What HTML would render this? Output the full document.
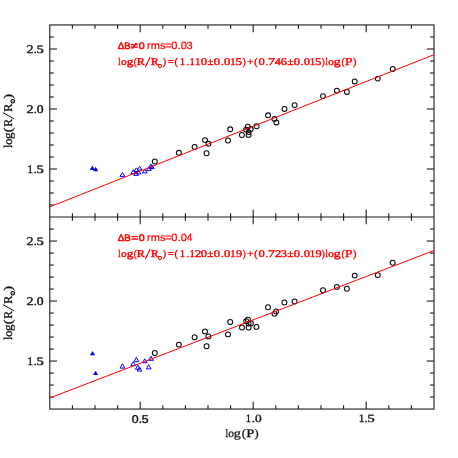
<!DOCTYPE html>
<html><head><meta charset="utf-8"><title>log(R/R) vs log(P)</title>
<style>html,body{margin:0;padding:0;background:#fff;}body{width:458px;height:458px;overflow:hidden;font-family:"Liberation Sans",sans-serif;}svg{display:block;will-change:transform;}text{font-family:"Liberation Serif",serif;text-rendering:geometricPrecision;}.sans{font-family:"Liberation Sans",sans-serif;}</style>
</head><body>
<svg width="458" height="458" viewBox="0 0 458 458">
<rect width="458" height="458" fill="#ffffff"/>
<g stroke="#1a1a1a" stroke-width="1.1" fill="none" stroke-linecap="butt">
<rect x="49.80" y="24.95" width="384.20" height="384.10"/>
<line x1="49.80" y1="217.05" x2="434.00" y2="217.05"/>
<line x1="72.40" y1="24.95" x2="72.40" y2="28.65"/>
<line x1="72.40" y1="213.35" x2="72.40" y2="220.75"/>
<line x1="72.40" y1="405.35" x2="72.40" y2="409.05"/>
<line x1="95.00" y1="24.95" x2="95.00" y2="28.65"/>
<line x1="95.00" y1="213.35" x2="95.00" y2="220.75"/>
<line x1="95.00" y1="405.35" x2="95.00" y2="409.05"/>
<line x1="117.60" y1="24.95" x2="117.60" y2="28.65"/>
<line x1="117.60" y1="213.35" x2="117.60" y2="220.75"/>
<line x1="117.60" y1="405.35" x2="117.60" y2="409.05"/>
<line x1="140.20" y1="24.95" x2="140.20" y2="32.15"/>
<line x1="140.20" y1="209.85" x2="140.20" y2="224.25"/>
<line x1="140.20" y1="401.85" x2="140.20" y2="409.05"/>
<line x1="162.80" y1="24.95" x2="162.80" y2="28.65"/>
<line x1="162.80" y1="213.35" x2="162.80" y2="220.75"/>
<line x1="162.80" y1="405.35" x2="162.80" y2="409.05"/>
<line x1="185.40" y1="24.95" x2="185.40" y2="28.65"/>
<line x1="185.40" y1="213.35" x2="185.40" y2="220.75"/>
<line x1="185.40" y1="405.35" x2="185.40" y2="409.05"/>
<line x1="208.00" y1="24.95" x2="208.00" y2="28.65"/>
<line x1="208.00" y1="213.35" x2="208.00" y2="220.75"/>
<line x1="208.00" y1="405.35" x2="208.00" y2="409.05"/>
<line x1="230.60" y1="24.95" x2="230.60" y2="28.65"/>
<line x1="230.60" y1="213.35" x2="230.60" y2="220.75"/>
<line x1="230.60" y1="405.35" x2="230.60" y2="409.05"/>
<line x1="253.20" y1="24.95" x2="253.20" y2="32.15"/>
<line x1="253.20" y1="209.85" x2="253.20" y2="224.25"/>
<line x1="253.20" y1="401.85" x2="253.20" y2="409.05"/>
<line x1="275.80" y1="24.95" x2="275.80" y2="28.65"/>
<line x1="275.80" y1="213.35" x2="275.80" y2="220.75"/>
<line x1="275.80" y1="405.35" x2="275.80" y2="409.05"/>
<line x1="298.40" y1="24.95" x2="298.40" y2="28.65"/>
<line x1="298.40" y1="213.35" x2="298.40" y2="220.75"/>
<line x1="298.40" y1="405.35" x2="298.40" y2="409.05"/>
<line x1="321.00" y1="24.95" x2="321.00" y2="28.65"/>
<line x1="321.00" y1="213.35" x2="321.00" y2="220.75"/>
<line x1="321.00" y1="405.35" x2="321.00" y2="409.05"/>
<line x1="343.60" y1="24.95" x2="343.60" y2="28.65"/>
<line x1="343.60" y1="213.35" x2="343.60" y2="220.75"/>
<line x1="343.60" y1="405.35" x2="343.60" y2="409.05"/>
<line x1="366.20" y1="24.95" x2="366.20" y2="32.15"/>
<line x1="366.20" y1="209.85" x2="366.20" y2="224.25"/>
<line x1="366.20" y1="401.85" x2="366.20" y2="409.05"/>
<line x1="388.80" y1="24.95" x2="388.80" y2="28.65"/>
<line x1="388.80" y1="213.35" x2="388.80" y2="220.75"/>
<line x1="388.80" y1="405.35" x2="388.80" y2="409.05"/>
<line x1="411.40" y1="24.95" x2="411.40" y2="28.65"/>
<line x1="411.40" y1="213.35" x2="411.40" y2="220.75"/>
<line x1="411.40" y1="405.35" x2="411.40" y2="409.05"/>
<line x1="49.80" y1="205.00" x2="53.80" y2="205.00"/>
<line x1="430.00" y1="205.00" x2="434.00" y2="205.00"/>
<line x1="49.80" y1="193.00" x2="53.80" y2="193.00"/>
<line x1="430.00" y1="193.00" x2="434.00" y2="193.00"/>
<line x1="49.80" y1="181.00" x2="53.80" y2="181.00"/>
<line x1="430.00" y1="181.00" x2="434.00" y2="181.00"/>
<line x1="49.80" y1="169.00" x2="57.00" y2="169.00"/>
<line x1="426.80" y1="169.00" x2="434.00" y2="169.00"/>
<line x1="49.80" y1="157.00" x2="53.80" y2="157.00"/>
<line x1="430.00" y1="157.00" x2="434.00" y2="157.00"/>
<line x1="49.80" y1="145.00" x2="53.80" y2="145.00"/>
<line x1="430.00" y1="145.00" x2="434.00" y2="145.00"/>
<line x1="49.80" y1="133.00" x2="53.80" y2="133.00"/>
<line x1="430.00" y1="133.00" x2="434.00" y2="133.00"/>
<line x1="49.80" y1="121.00" x2="53.80" y2="121.00"/>
<line x1="430.00" y1="121.00" x2="434.00" y2="121.00"/>
<line x1="49.80" y1="109.00" x2="57.00" y2="109.00"/>
<line x1="426.80" y1="109.00" x2="434.00" y2="109.00"/>
<line x1="49.80" y1="97.00" x2="53.80" y2="97.00"/>
<line x1="430.00" y1="97.00" x2="434.00" y2="97.00"/>
<line x1="49.80" y1="85.00" x2="53.80" y2="85.00"/>
<line x1="430.00" y1="85.00" x2="434.00" y2="85.00"/>
<line x1="49.80" y1="73.00" x2="53.80" y2="73.00"/>
<line x1="430.00" y1="73.00" x2="434.00" y2="73.00"/>
<line x1="49.80" y1="61.00" x2="53.80" y2="61.00"/>
<line x1="430.00" y1="61.00" x2="434.00" y2="61.00"/>
<line x1="49.80" y1="49.00" x2="57.00" y2="49.00"/>
<line x1="426.80" y1="49.00" x2="434.00" y2="49.00"/>
<line x1="49.80" y1="37.00" x2="53.80" y2="37.00"/>
<line x1="430.00" y1="37.00" x2="434.00" y2="37.00"/>
<line x1="49.80" y1="397.05" x2="53.80" y2="397.05"/>
<line x1="430.00" y1="397.05" x2="434.00" y2="397.05"/>
<line x1="49.80" y1="385.05" x2="53.80" y2="385.05"/>
<line x1="430.00" y1="385.05" x2="434.00" y2="385.05"/>
<line x1="49.80" y1="373.05" x2="53.80" y2="373.05"/>
<line x1="430.00" y1="373.05" x2="434.00" y2="373.05"/>
<line x1="49.80" y1="361.05" x2="57.00" y2="361.05"/>
<line x1="426.80" y1="361.05" x2="434.00" y2="361.05"/>
<line x1="49.80" y1="349.05" x2="53.80" y2="349.05"/>
<line x1="430.00" y1="349.05" x2="434.00" y2="349.05"/>
<line x1="49.80" y1="337.05" x2="53.80" y2="337.05"/>
<line x1="430.00" y1="337.05" x2="434.00" y2="337.05"/>
<line x1="49.80" y1="325.05" x2="53.80" y2="325.05"/>
<line x1="430.00" y1="325.05" x2="434.00" y2="325.05"/>
<line x1="49.80" y1="313.05" x2="53.80" y2="313.05"/>
<line x1="430.00" y1="313.05" x2="434.00" y2="313.05"/>
<line x1="49.80" y1="301.05" x2="57.00" y2="301.05"/>
<line x1="426.80" y1="301.05" x2="434.00" y2="301.05"/>
<line x1="49.80" y1="289.05" x2="53.80" y2="289.05"/>
<line x1="430.00" y1="289.05" x2="434.00" y2="289.05"/>
<line x1="49.80" y1="277.05" x2="53.80" y2="277.05"/>
<line x1="430.00" y1="277.05" x2="434.00" y2="277.05"/>
<line x1="49.80" y1="265.05" x2="53.80" y2="265.05"/>
<line x1="430.00" y1="265.05" x2="434.00" y2="265.05"/>
<line x1="49.80" y1="253.05" x2="53.80" y2="253.05"/>
<line x1="430.00" y1="253.05" x2="434.00" y2="253.05"/>
<line x1="49.80" y1="241.05" x2="57.00" y2="241.05"/>
<line x1="426.80" y1="241.05" x2="434.00" y2="241.05"/>
<line x1="49.80" y1="229.05" x2="53.80" y2="229.05"/>
<line x1="430.00" y1="229.05" x2="434.00" y2="229.05"/>
</g>
<g fill="none" stroke="#0000ff" stroke-width="1" stroke-linejoin="miter">
<path d="M122.40 172.50L124.75 176.40L120.05 176.40Z"/>
<path d="M133.20 169.70L135.55 173.70L130.85 173.70Z"/>
<path d="M136.40 167.80L138.75 171.50L134.05 171.50Z"/>
<path d="M139.60 166.30L141.95 170.00L137.25 170.00Z"/>
<path d="M136.10 171.70L138.45 175.40L133.75 175.40Z"/>
<path d="M138.60 170.70L140.95 173.90L136.25 173.90Z"/>
<path d="M144.80 169.20L147.15 172.90L142.45 172.90Z"/>
<path d="M148.90 166.80L151.25 170.40L146.55 170.40Z"/>
<path d="M150.90 164.00L153.25 167.80L148.55 167.80Z"/>
<path d="M151.90 165.00L154.25 168.60L149.55 168.60Z"/>
<path d="M122.40 363.70L124.75 368.10L120.05 368.10Z"/>
<path d="M133.20 361.70L135.55 365.70L130.85 365.70Z"/>
<path d="M136.40 357.30L138.75 361.70L134.05 361.70Z"/>
<path d="M137.80 365.10L140.15 369.20L135.45 369.20Z"/>
<path d="M139.60 367.10L141.95 371.10L137.25 371.10Z"/>
<path d="M144.80 358.80L147.15 362.80L142.45 362.80Z"/>
<path d="M148.70 364.60L151.05 368.90L146.35 368.90Z"/>
<path d="M151.00 356.30L153.35 360.30L148.65 360.30Z"/>
</g>
<g fill="#0000ff" stroke="none">
<path d="M92.40 165.60L94.95 170.00L89.85 170.00Z"/>
<path d="M95.65 166.85L98.20 171.25L93.10 171.25Z"/>
<path d="M92.50 350.95L95.05 355.35L89.95 355.35Z"/>
<path d="M95.60 370.70L98.15 375.10L93.05 375.10Z"/>
</g>
<g fill="none" stroke="#0a0a0a" stroke-width="1.05">
<circle cx="154.80" cy="161.50" r="2.45"/>
<circle cx="178.90" cy="152.80" r="2.45"/>
<circle cx="194.60" cy="146.90" r="2.45"/>
<circle cx="205.00" cy="140.10" r="2.45"/>
<circle cx="208.40" cy="143.80" r="2.45"/>
<circle cx="206.60" cy="153.20" r="2.45"/>
<circle cx="228.00" cy="140.50" r="2.45"/>
<circle cx="230.20" cy="129.30" r="2.45"/>
<circle cx="241.90" cy="135.00" r="2.45"/>
<circle cx="247.80" cy="126.70" r="2.45"/>
<circle cx="246.10" cy="129.60" r="2.45"/>
<circle cx="250.70" cy="129.20" r="2.45"/>
<circle cx="248.60" cy="132.10" r="2.45"/>
<circle cx="248.60" cy="134.90" r="2.45"/>
<circle cx="256.60" cy="126.20" r="2.45"/>
<circle cx="268.10" cy="115.30" r="2.45"/>
<circle cx="274.40" cy="118.90" r="2.45"/>
<circle cx="276.40" cy="122.40" r="2.45"/>
<circle cx="284.50" cy="108.90" r="2.45"/>
<circle cx="294.60" cy="105.10" r="2.45"/>
<circle cx="323.00" cy="96.10" r="2.45"/>
<circle cx="336.90" cy="90.60" r="2.45"/>
<circle cx="346.90" cy="91.90" r="2.45"/>
<circle cx="354.70" cy="81.40" r="2.45"/>
<circle cx="377.80" cy="78.60" r="2.45"/>
<circle cx="392.70" cy="68.90" r="2.45"/>
<circle cx="154.80" cy="353.05" r="2.45"/>
<circle cx="178.90" cy="344.60" r="2.45"/>
<circle cx="194.60" cy="337.30" r="2.45"/>
<circle cx="205.00" cy="331.40" r="2.45"/>
<circle cx="208.40" cy="336.40" r="2.45"/>
<circle cx="206.60" cy="346.20" r="2.45"/>
<circle cx="228.00" cy="334.40" r="2.45"/>
<circle cx="230.20" cy="322.00" r="2.45"/>
<circle cx="242.00" cy="327.50" r="2.45"/>
<circle cx="246.20" cy="321.20" r="2.45"/>
<circle cx="247.90" cy="319.70" r="2.45"/>
<circle cx="248.60" cy="323.60" r="2.45"/>
<circle cx="250.90" cy="323.30" r="2.45"/>
<circle cx="248.60" cy="327.50" r="2.45"/>
<circle cx="256.40" cy="326.90" r="2.45"/>
<circle cx="268.00" cy="307.20" r="2.45"/>
<circle cx="274.50" cy="313.80" r="2.45"/>
<circle cx="276.10" cy="311.50" r="2.45"/>
<circle cx="284.40" cy="302.50" r="2.45"/>
<circle cx="294.60" cy="301.50" r="2.45"/>
<circle cx="323.00" cy="290.30" r="2.45"/>
<circle cx="336.90" cy="286.90" r="2.45"/>
<circle cx="346.90" cy="288.70" r="2.45"/>
<circle cx="354.70" cy="275.60" r="2.45"/>
<circle cx="377.80" cy="275.10" r="2.45"/>
<circle cx="392.70" cy="262.80" r="2.45"/>
</g>
<line x1="49.80" y1="206.85" x2="434.00" y2="54.66" stroke="#ff0000" stroke-width="1.0"/>
<line x1="49.80" y1="397.97" x2="434.00" y2="250.48" stroke="#ff0000" stroke-width="1.0"/>
<g fill="#111111" stroke="#111111" stroke-width="0.12">
<text transform="translate(26.53 52.60) scale(1.226 1)" font-size="11.6px" stroke-width="0.35">2</text><text transform="translate(33.77 52.60) scale(1.021 1)" font-size="11.6px" stroke-width="0.35">.</text><text transform="translate(36.40 52.60) scale(1.263 1)" font-size="11.6px" stroke-width="0.35">5</text>
<text transform="translate(26.53 112.60) scale(1.226 1)" font-size="11.6px" stroke-width="0.35">2</text><text transform="translate(33.77 112.60) scale(1.021 1)" font-size="11.6px" stroke-width="0.35">.</text><text transform="translate(36.83 112.60) scale(1.180 1)" font-size="11.6px" stroke-width="0.35">0</text>
<text transform="translate(27.60 172.60) scale(0.931 1)" font-size="11.6px" stroke-width="0.35">1</text><text transform="translate(33.77 172.60) scale(1.021 1)" font-size="11.6px" stroke-width="0.35">.</text><text transform="translate(36.40 172.60) scale(1.263 1)" font-size="11.6px" stroke-width="0.35">5</text>
<text transform="translate(26.53 244.65) scale(1.226 1)" font-size="11.6px" stroke-width="0.35">2</text><text transform="translate(33.77 244.65) scale(1.021 1)" font-size="11.6px" stroke-width="0.35">.</text><text transform="translate(36.40 244.65) scale(1.263 1)" font-size="11.6px" stroke-width="0.35">5</text>
<text transform="translate(26.53 304.65) scale(1.226 1)" font-size="11.6px" stroke-width="0.35">2</text><text transform="translate(33.77 304.65) scale(1.021 1)" font-size="11.6px" stroke-width="0.35">.</text><text transform="translate(36.83 304.65) scale(1.180 1)" font-size="11.6px" stroke-width="0.35">0</text>
<text transform="translate(27.60 364.65) scale(0.931 1)" font-size="11.6px" stroke-width="0.35">1</text><text transform="translate(33.77 364.65) scale(1.021 1)" font-size="11.6px" stroke-width="0.35">.</text><text transform="translate(36.40 364.65) scale(1.263 1)" font-size="11.6px" stroke-width="0.35">5</text>
<text transform="translate(131.82 422.55) scale(1.092 1)" class="sans" font-size="11.3px" stroke-width="0.4">0</text><text transform="translate(138.65 422.55) scale(1.022 1)" class="sans" font-size="11.3px" stroke-width="0.4">.</text><text transform="translate(141.71 422.55) scale(1.083 1)" class="sans" font-size="11.3px" stroke-width="0.4">5</text>
<text transform="translate(245.81 422.35) scale(0.945 1)" font-size="11.0px" stroke-width="0.3">1</text><text transform="translate(251.85 422.35) scale(1.200 1)" font-size="11.0px" stroke-width="0.3">.</text><text transform="translate(255.01 422.35) scale(1.214 1)" font-size="11.0px" stroke-width="0.3">0</text>
<text transform="translate(358.73 422.35) scale(1.023 1)" font-size="11.0px" stroke-width="0.3">1</text><text transform="translate(364.61 422.35) scale(1.123 1)" font-size="11.0px" stroke-width="0.3">.</text><text transform="translate(367.25 422.35) scale(1.368 1)" font-size="11.0px" stroke-width="0.3">5</text>
<text transform="translate(225.61 436.80) scale(0.804 1)" font-size="11.5px" stroke-width="0.26">l</text><text transform="translate(228.36 436.80) scale(1.005 1)" font-size="11.5px" stroke-width="0.26">o</text><text transform="translate(233.79 436.80) scale(1.231 1)" font-size="11.5px" stroke-width="0.26">g</text><text transform="translate(241.64 436.80) scale(1.117 1)" font-size="11.5px" stroke-width="0.26">(</text><text transform="translate(246.28 436.80) scale(1.267 1)" font-size="11.5px" stroke-width="0.26">P</text><text transform="translate(254.60 436.80) scale(1.083 1)" font-size="11.5px" stroke-width="0.26">)</text>
<g transform="translate(11.5 147.60) rotate(-90)" stroke-width="0.32"><text transform="translate(-0.11 0.00) scale(0.876 1)" font-size="12.0px">l</text><text transform="translate(2.83 0.00) scale(1.022 1)" font-size="12.0px">o</text><text transform="translate(8.63 0.00) scale(1.104 1)" font-size="12.0px">g</text><text transform="translate(15.38 0.00) scale(1.168 1)" font-size="12.0px">(</text><text transform="translate(20.77 0.00) scale(0.969 1)" font-size="12.0px">R</text><line x1="28.9" y1="2.3" x2="35.1" y2="-8.7" stroke="#111111" stroke-width="1.0"/><text transform="translate(35.75 0.00) scale(1.008 1)" font-size="12.0px">R</text><circle cx="46.4" cy="1.25" r="1.75" fill="none" stroke="#000000" stroke-width="1.15"/><circle cx="46.4" cy="1.25" r="0.55" fill="#000000" stroke="none"/><text transform="translate(48.74 0.00) scale(1.201 1)" font-size="12.0px">)</text></g>
<g transform="translate(11.5 339.60) rotate(-90)" stroke-width="0.32"><text transform="translate(-0.11 0.00) scale(0.876 1)" font-size="12.0px">l</text><text transform="translate(2.83 0.00) scale(1.022 1)" font-size="12.0px">o</text><text transform="translate(8.63 0.00) scale(1.104 1)" font-size="12.0px">g</text><text transform="translate(15.38 0.00) scale(1.168 1)" font-size="12.0px">(</text><text transform="translate(20.77 0.00) scale(0.969 1)" font-size="12.0px">R</text><line x1="28.9" y1="2.3" x2="35.1" y2="-8.7" stroke="#111111" stroke-width="1.0"/><text transform="translate(35.75 0.00) scale(1.008 1)" font-size="12.0px">R</text><circle cx="46.4" cy="1.25" r="1.75" fill="none" stroke="#000000" stroke-width="1.15"/><circle cx="46.4" cy="1.25" r="0.55" fill="#000000" stroke="none"/><text transform="translate(48.74 0.00) scale(1.201 1)" font-size="12.0px">)</text></g>
</g>
<g fill="#ff0000" stroke="#ff0000" stroke-width="0.38"><text transform="translate(117.73 49.20) scale(1.021 1)" class="sans" font-size="9.6px" stroke-width="0.52">&#916;</text><text transform="translate(124.24 49.20) scale(0.990 1)" class="sans" font-size="9.6px" stroke-width="0.52">B</text><text transform="translate(131.02 49.20) scale(1.299 1)" class="sans" font-size="9.6px" stroke-width="0.52">&#8800;</text><text transform="translate(138.81 49.20) scale(1.103 1)" class="sans" font-size="9.6px" stroke-width="0.52">0</text><text transform="translate(147.11 49.30) scale(0.990 1)" class="sans" font-size="10.5px" stroke-width="0.22">r</text><text transform="translate(150.67 49.30) scale(1.047 1)" class="sans" font-size="10.5px" stroke-width="0.22">m</text><text transform="translate(159.89 49.30) scale(1.070 1)" class="sans" font-size="10.5px" stroke-width="0.22">s</text><text transform="translate(165.27 49.30) scale(1.039 1)" class="sans" font-size="10.5px" stroke-width="0.22">=</text><text transform="translate(171.37 49.30) scale(1.056 1)" class="sans" font-size="10.5px" stroke-width="0.22">0</text><text transform="translate(177.65 49.30) scale(1.100 1)" class="sans" font-size="10.5px" stroke-width="0.22">.</text><text transform="translate(180.67 49.30) scale(1.056 1)" class="sans" font-size="10.5px" stroke-width="0.22">0</text><text transform="translate(186.70 49.30) scale(1.004 1)" class="sans" font-size="10.5px" stroke-width="0.22">3</text><text transform="translate(118.30 64.60) scale(0.768 1)" font-size="10.3px">l</text><text transform="translate(121.02 64.60) scale(1.118 1)" font-size="10.3px">o</text><text transform="translate(126.68 64.60) scale(1.303 1)" font-size="10.3px">g</text><text transform="translate(133.77 64.60) scale(0.862 1)" font-size="10.3px">(</text><text transform="translate(136.82 64.60) scale(1.156 1)" font-size="10.3px">R</text><line x1="145.3" y1="66.90" x2="150.2" y2="57.20" stroke="#ff0000" stroke-width="1.15"/><text transform="translate(150.82 64.60) scale(1.156 1)" font-size="10.3px">R</text><circle cx="160.0" cy="66.05" r="1.7" fill="none" stroke="#ff0000" stroke-width="1.0"/><circle cx="160.0" cy="66.05" r="0.5" stroke="none"/><text transform="translate(162.74 64.60) scale(0.975 1)" font-size="10.3px">)</text><text transform="translate(167.62 64.60) scale(1.060 1)" font-size="10.3px">=</text><text transform="translate(174.50 64.60) scale(1.013 1)" font-size="10.3px">(</text><text transform="translate(179.67 64.60) scale(1.042 1)" font-size="10.3px">1</text><text transform="translate(186.45 64.60) scale(1.052 1)" font-size="10.3px">.</text><text transform="translate(189.52 64.60) scale(1.042 1)" font-size="10.3px">1</text><text transform="translate(195.12 64.60) scale(1.042 1)" font-size="10.3px">1</text><text transform="translate(200.71 64.60) scale(1.219 1)" font-size="10.3px">0</text><text transform="translate(207.29 64.60) scale(1.102 1)" font-size="10.3px">&#177;</text><text transform="translate(213.86 64.60) scale(1.219 1)" font-size="10.3px">0</text><text transform="translate(220.89 64.60) scale(1.134 1)" font-size="10.3px">.</text><text transform="translate(224.01 64.60) scale(1.219 1)" font-size="10.3px">0</text><text transform="translate(230.37 64.60) scale(1.042 1)" font-size="10.3px">1</text><text transform="translate(235.61 64.60) scale(1.248 1)" font-size="10.3px">5</text><text transform="translate(242.67 64.60) scale(0.862 1)" font-size="10.3px">)</text><text transform="translate(246.88 64.60) scale(1.122 1)" font-size="10.3px">+</text><text transform="translate(254.22 64.60) scale(0.975 1)" font-size="10.3px">(</text><text transform="translate(258.41 64.60) scale(1.219 1)" font-size="10.3px">0</text><text transform="translate(265.55 64.60) scale(1.052 1)" font-size="10.3px">.</text><text transform="translate(268.05 64.60) scale(1.337 1)" font-size="10.3px">7</text><text transform="translate(274.82 64.60) scale(1.186 1)" font-size="10.3px">4</text><text transform="translate(280.83 64.60) scale(1.200 1)" font-size="10.3px">6</text><text transform="translate(287.17 64.60) scale(1.143 1)" font-size="10.3px">&#177;</text><text transform="translate(293.66 64.60) scale(1.219 1)" font-size="10.3px">0</text><text transform="translate(300.55 64.60) scale(1.052 1)" font-size="10.3px">.</text><text transform="translate(303.76 64.60) scale(1.219 1)" font-size="10.3px">0</text><text transform="translate(309.87 64.60) scale(1.042 1)" font-size="10.3px">1</text><text transform="translate(315.11 64.60) scale(1.248 1)" font-size="10.3px">5</text><text transform="translate(321.87 64.60) scale(0.862 1)" font-size="10.3px">)</text><text transform="translate(325.49 64.60) scale(0.808 1)" font-size="10.3px">l</text><text transform="translate(328.32 64.60) scale(1.118 1)" font-size="10.3px">o</text><text transform="translate(333.87 64.60) scale(1.326 1)" font-size="10.3px">g</text><text transform="translate(341.44 64.60) scale(0.937 1)" font-size="10.3px">(</text><text transform="translate(344.97 64.60) scale(1.311 1)" font-size="10.3px">P</text><text transform="translate(352.92 64.60) scale(1.013 1)" font-size="10.3px">)</text></g>
<g fill="#ff0000" stroke="#ff0000" stroke-width="0.38"><text transform="translate(117.73 241.20) scale(1.021 1)" class="sans" font-size="9.6px" stroke-width="0.52">&#916;</text><text transform="translate(124.24 241.20) scale(0.990 1)" class="sans" font-size="9.6px" stroke-width="0.52">B</text><text transform="translate(131.34 241.20) scale(1.235 1)" class="sans" font-size="9.6px" stroke-width="0.52">=</text><text transform="translate(138.81 241.20) scale(1.103 1)" class="sans" font-size="9.6px" stroke-width="0.52">0</text><text transform="translate(147.11 241.30) scale(0.990 1)" class="sans" font-size="10.5px" stroke-width="0.22">r</text><text transform="translate(150.67 241.30) scale(1.047 1)" class="sans" font-size="10.5px" stroke-width="0.22">m</text><text transform="translate(159.89 241.30) scale(1.070 1)" class="sans" font-size="10.5px" stroke-width="0.22">s</text><text transform="translate(165.27 241.30) scale(1.039 1)" class="sans" font-size="10.5px" stroke-width="0.22">=</text><text transform="translate(171.37 241.30) scale(1.056 1)" class="sans" font-size="10.5px" stroke-width="0.22">0</text><text transform="translate(177.65 241.30) scale(1.100 1)" class="sans" font-size="10.5px" stroke-width="0.22">.</text><text transform="translate(180.67 241.30) scale(1.056 1)" class="sans" font-size="10.5px" stroke-width="0.22">0</text><text transform="translate(186.87 241.30) scale(0.945 1)" class="sans" font-size="10.5px" stroke-width="0.22">4</text><text transform="translate(118.30 256.60) scale(0.768 1)" font-size="10.3px">l</text><text transform="translate(121.02 256.60) scale(1.118 1)" font-size="10.3px">o</text><text transform="translate(126.68 256.60) scale(1.303 1)" font-size="10.3px">g</text><text transform="translate(133.77 256.60) scale(0.862 1)" font-size="10.3px">(</text><text transform="translate(136.82 256.60) scale(1.156 1)" font-size="10.3px">R</text><line x1="145.3" y1="258.90" x2="150.2" y2="249.20" stroke="#ff0000" stroke-width="1.15"/><text transform="translate(150.82 256.60) scale(1.156 1)" font-size="10.3px">R</text><circle cx="160.0" cy="258.05" r="1.7" fill="none" stroke="#ff0000" stroke-width="1.0"/><circle cx="160.0" cy="258.05" r="0.5" stroke="none"/><text transform="translate(162.74 256.60) scale(0.975 1)" font-size="10.3px">)</text><text transform="translate(167.62 256.60) scale(1.060 1)" font-size="10.3px">=</text><text transform="translate(174.50 256.60) scale(1.013 1)" font-size="10.3px">(</text><text transform="translate(179.67 256.60) scale(1.042 1)" font-size="10.3px">1</text><text transform="translate(186.45 256.60) scale(1.052 1)" font-size="10.3px">.</text><text transform="translate(189.52 256.60) scale(1.042 1)" font-size="10.3px">1</text><text transform="translate(194.73 256.60) scale(1.279 1)" font-size="10.3px">2</text><text transform="translate(200.71 256.60) scale(1.219 1)" font-size="10.3px">0</text><text transform="translate(207.29 256.60) scale(1.102 1)" font-size="10.3px">&#177;</text><text transform="translate(213.86 256.60) scale(1.219 1)" font-size="10.3px">0</text><text transform="translate(220.89 256.60) scale(1.134 1)" font-size="10.3px">.</text><text transform="translate(224.01 256.60) scale(1.219 1)" font-size="10.3px">0</text><text transform="translate(230.37 256.60) scale(1.042 1)" font-size="10.3px">1</text><text transform="translate(235.91 256.60) scale(1.201 1)" font-size="10.3px">9</text><text transform="translate(242.67 256.60) scale(0.862 1)" font-size="10.3px">)</text><text transform="translate(246.88 256.60) scale(1.122 1)" font-size="10.3px">+</text><text transform="translate(254.22 256.60) scale(0.975 1)" font-size="10.3px">(</text><text transform="translate(258.41 256.60) scale(1.219 1)" font-size="10.3px">0</text><text transform="translate(265.55 256.60) scale(1.052 1)" font-size="10.3px">.</text><text transform="translate(268.05 256.60) scale(1.337 1)" font-size="10.3px">7</text><text transform="translate(274.68 256.60) scale(1.279 1)" font-size="10.3px">2</text><text transform="translate(280.81 256.60) scale(1.217 1)" font-size="10.3px">3</text><text transform="translate(287.17 256.60) scale(1.143 1)" font-size="10.3px">&#177;</text><text transform="translate(293.66 256.60) scale(1.219 1)" font-size="10.3px">0</text><text transform="translate(300.55 256.60) scale(1.052 1)" font-size="10.3px">.</text><text transform="translate(303.76 256.60) scale(1.219 1)" font-size="10.3px">0</text><text transform="translate(309.87 256.60) scale(1.042 1)" font-size="10.3px">1</text><text transform="translate(315.41 256.60) scale(1.201 1)" font-size="10.3px">9</text><text transform="translate(321.87 256.60) scale(0.862 1)" font-size="10.3px">)</text><text transform="translate(325.49 256.60) scale(0.808 1)" font-size="10.3px">l</text><text transform="translate(328.32 256.60) scale(1.118 1)" font-size="10.3px">o</text><text transform="translate(333.87 256.60) scale(1.326 1)" font-size="10.3px">g</text><text transform="translate(341.44 256.60) scale(0.937 1)" font-size="10.3px">(</text><text transform="translate(344.97 256.60) scale(1.311 1)" font-size="10.3px">P</text><text transform="translate(352.92 256.60) scale(1.013 1)" font-size="10.3px">)</text></g>
</svg>
</body></html>
